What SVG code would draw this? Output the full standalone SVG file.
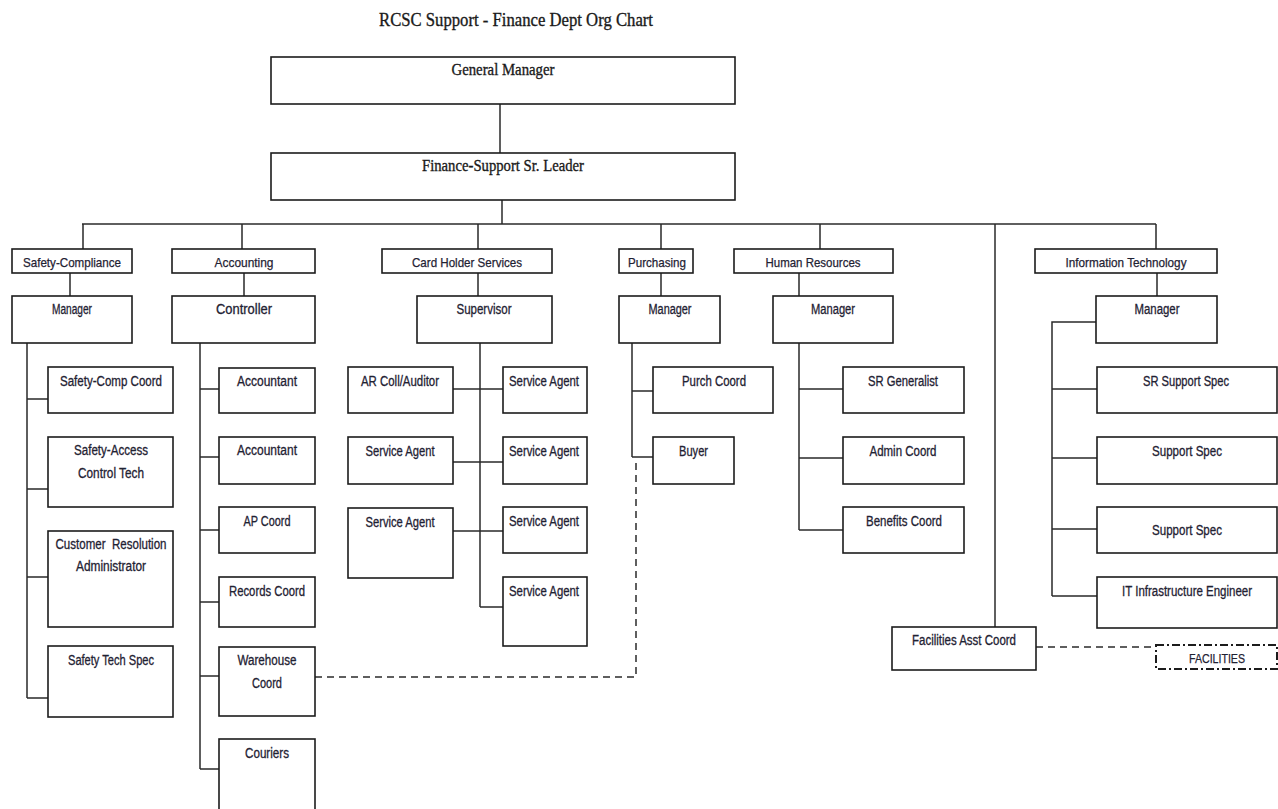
<svg xmlns="http://www.w3.org/2000/svg" width="1278" height="809" viewBox="0 0 1278 809">
  <style>
    .bx { fill: #ffffff; stroke: #1c1c1c; stroke-width: 1.6; }
    .ln { fill: none; stroke: #2a2a2a; stroke-width: 1.5; }
    .dash { fill: none; stroke: #2a2a2a; stroke-width: 1.5; stroke-dasharray: 7 5; }
    .dashdot { fill: #ffffff; stroke: #1c1c1c; stroke-width: 2; stroke-dasharray: 8 3 2 3; }
    .t { font-family: "Liberation Sans", Arial, sans-serif; font-size: 14px; fill: #1f2233; stroke: #1f2233; stroke-width: 0.3; text-anchor: middle; }
    .d { font-family: "Liberation Sans", Arial, sans-serif; font-size: 13px; fill: #1f2233; stroke: #1f2233; stroke-width: 0.25; text-anchor: middle; }
    .s { font-family: "Liberation Serif", "Times New Roman", serif; fill: #1a1a1a; stroke: #1a1a1a; stroke-width: 0.35; text-anchor: middle; }
  </style>
  <rect width="1278" height="809" fill="#ffffff"/>

  <text class="s" x="516" y="26" font-size="19" textLength="274" lengthAdjust="spacingAndGlyphs">RCSC Support - Finance Dept Org Chart</text>

  <!-- connectors -->
  <g id="connectors">
    <path class="ln" d="M500 104 V153"/>
    <path class="ln" d="M502 200 V224"/>
    <path class="ln" d="M82 224 H1156"/>
    <path class="ln" d="M83 224 V249 M242 224 V249 M478 224 V249 M661 224 V249 M820 224 V249 M1156 224 V249"/>
    <path class="ln" d="M995 224 V627"/>
    <path class="ln" d="M70 273 V296 M244 273 V296 M478 273 V296 M661 273 V296 M799 273 V296 M1157 273 V296"/>
    <!-- safety-compliance -->
    <path class="ln" d="M27 343 V698 M27 399 H48 M27 489 H48 M27 577 H48 M27 698 H48"/>
    <!-- accounting -->
    <path class="ln" d="M200 343 V769 M200 389 H219 M200 457 H219 M200 530 H219 M200 602 H219 M200 676 H219 M200 769 H219"/>
    <!-- card holder services -->
    <path class="ln" d="M480 343 V607 M453 389 H503 M453 462 H503 M453 531 H503 M480 607 H503"/>
    <!-- purchasing -->
    <path class="ln" d="M632 343 V457 M632 391 H653 M632 457 H653"/>
    <!-- human resources -->
    <path class="ln" d="M799 343 V530 M799 389 H843 M799 458 H843 M799 530 H843"/>
    <!-- information technology -->
    <path class="ln" d="M1096 322 H1052 V596 M1052 389 H1097 M1052 458 H1097 M1052 529 H1097 M1052 596 H1097"/>
    <!-- dotted-line reporting -->
    <path class="dash" d="M315 677 H636 V459"/>
    <path class="dash" d="M1036 647 H1156"/>
  </g>

  <g id="general-manager">
    <rect class="bx" x="271" y="57" width="464" height="47"/>
    <text class="s" x="503" y="75" font-size="17" textLength="103" lengthAdjust="spacingAndGlyphs">General Manager</text>
  </g>
  <g id="finance-leader">
    <rect class="bx" x="271" y="153" width="464" height="47"/>
    <text class="s" x="503" y="171" font-size="17" textLength="162" lengthAdjust="spacingAndGlyphs">Finance-Support Sr. Leader</text>
  </g>

  <!-- departments -->
  <g id="dept-safety">
    <rect class="bx" x="12" y="249" width="120" height="24"/>
    <text class="d" x="72" y="267" textLength="98" lengthAdjust="spacingAndGlyphs">Safety-Compliance</text>
  </g>
  <g id="dept-accounting">
    <rect class="bx" x="172" y="249" width="143" height="24"/>
    <text class="d" x="244" y="267" textLength="59" lengthAdjust="spacingAndGlyphs">Accounting</text>
  </g>
  <g id="dept-cardholder">
    <rect class="bx" x="382" y="249" width="170" height="24"/>
    <text class="d" x="467" y="267" textLength="110" lengthAdjust="spacingAndGlyphs">Card Holder Services</text>
  </g>
  <g id="dept-purchasing">
    <rect class="bx" x="619" y="249" width="74" height="24"/>
    <text class="d" x="657" y="267" textLength="58" lengthAdjust="spacingAndGlyphs">Purchasing</text>
  </g>
  <g id="dept-hr">
    <rect class="bx" x="734" y="249" width="159" height="24"/>
    <text class="d" x="813" y="267" textLength="95" lengthAdjust="spacingAndGlyphs">Human Resources</text>
  </g>
  <g id="dept-it">
    <rect class="bx" x="1035" y="249" width="182" height="24"/>
    <text class="d" x="1126" y="267" textLength="121" lengthAdjust="spacingAndGlyphs">Information Technology</text>
  </g>

  <!-- department heads -->
  <g id="safety-manager">
    <rect class="bx" x="12" y="296" width="120" height="47"/>
    <text class="t" x="72" y="314" textLength="40" lengthAdjust="spacingAndGlyphs">Manager</text>
  </g>
  <g id="controller">
    <rect class="bx" x="172" y="296" width="143" height="47"/>
    <text class="t" x="244" y="314" textLength="56" lengthAdjust="spacingAndGlyphs">Controller</text>
  </g>
  <g id="supervisor">
    <rect class="bx" x="417" y="296" width="135" height="47"/>
    <text class="t" x="484" y="314" textLength="55" lengthAdjust="spacingAndGlyphs">Supervisor</text>
  </g>
  <g id="purch-manager">
    <rect class="bx" x="619" y="296" width="101" height="47"/>
    <text class="t" x="670" y="314" textLength="43" lengthAdjust="spacingAndGlyphs">Manager</text>
  </g>
  <g id="hr-manager">
    <rect class="bx" x="773" y="296" width="120" height="47"/>
    <text class="t" x="833" y="314" textLength="44" lengthAdjust="spacingAndGlyphs">Manager</text>
  </g>
  <g id="it-manager">
    <rect class="bx" x="1096" y="296" width="121" height="47"/>
    <text class="t" x="1157" y="314" textLength="45" lengthAdjust="spacingAndGlyphs">Manager</text>
  </g>

  <!-- safety-compliance staff -->
  <g id="safety-comp-coord">
    <rect class="bx" x="48" y="367" width="125" height="46"/>
    <text class="t" x="111" y="385.5" textLength="102" lengthAdjust="spacingAndGlyphs">Safety-Comp Coord</text>
  </g>
  <g id="safety-access-tech">
    <rect class="bx" x="48" y="437" width="125" height="70"/>
    <text class="t" x="111" y="455" textLength="74" lengthAdjust="spacingAndGlyphs">Safety-Access</text>
    <text class="t" x="111" y="478" textLength="66" lengthAdjust="spacingAndGlyphs">Control Tech</text>
  </g>
  <g id="customer-resolution">
    <rect class="bx" x="48" y="531" width="125" height="96"/>
    <text class="t" x="111" y="549" textLength="111" lengthAdjust="spacingAndGlyphs" xml:space="preserve">Customer  Resolution</text>
    <text class="t" x="111" y="571" textLength="70" lengthAdjust="spacingAndGlyphs">Administrator</text>
  </g>
  <g id="safety-tech-spec">
    <rect class="bx" x="48" y="646" width="125" height="71"/>
    <text class="t" x="111" y="664.5" textLength="86" lengthAdjust="spacingAndGlyphs">Safety Tech Spec</text>
  </g>

  <!-- accounting staff -->
  <g id="accountant-1">
    <rect class="bx" x="219" y="368" width="96" height="45"/>
    <text class="t" x="267" y="386" textLength="60" lengthAdjust="spacingAndGlyphs">Accountant</text>
  </g>
  <g id="accountant-2">
    <rect class="bx" x="219" y="437" width="96" height="47"/>
    <text class="t" x="267" y="455" textLength="60" lengthAdjust="spacingAndGlyphs">Accountant</text>
  </g>
  <g id="ap-coord">
    <rect class="bx" x="219" y="507" width="96" height="46"/>
    <text class="t" x="267" y="525.5" textLength="47" lengthAdjust="spacingAndGlyphs">AP Coord</text>
  </g>
  <g id="records-coord">
    <rect class="bx" x="219" y="577" width="96" height="50"/>
    <text class="t" x="267" y="595.5" textLength="76" lengthAdjust="spacingAndGlyphs">Records Coord</text>
  </g>
  <g id="warehouse-coord">
    <rect class="bx" x="219" y="647" width="96" height="69"/>
    <text class="t" x="267" y="664.5" textLength="59" lengthAdjust="spacingAndGlyphs">Warehouse</text>
    <text class="t" x="267" y="688" textLength="30" lengthAdjust="spacingAndGlyphs">Coord</text>
  </g>
  <g id="couriers">
    <rect class="bx" x="219" y="739" width="96" height="80"/>
    <text class="t" x="267" y="757.5" textLength="44" lengthAdjust="spacingAndGlyphs">Couriers</text>
  </g>

  <!-- card holder services staff -->
  <g id="ar-coll-auditor">
    <rect class="bx" x="348" y="367" width="105" height="46"/>
    <text class="t" x="400" y="385.5" textLength="78" lengthAdjust="spacingAndGlyphs">AR Coll/Auditor</text>
  </g>
  <g id="service-agent-l2">
    <rect class="bx" x="348" y="437" width="105" height="47"/>
    <text class="t" x="400" y="455.5" textLength="69" lengthAdjust="spacingAndGlyphs">Service Agent</text>
  </g>
  <g id="service-agent-l3">
    <rect class="bx" x="348" y="508" width="105" height="70"/>
    <text class="t" x="400" y="526.5" textLength="69" lengthAdjust="spacingAndGlyphs">Service Agent</text>
  </g>
  <g id="service-agent-r1">
    <rect class="bx" x="503" y="367" width="84" height="46"/>
    <text class="t" x="544" y="385.5" textLength="70" lengthAdjust="spacingAndGlyphs">Service Agent</text>
  </g>
  <g id="service-agent-r2">
    <rect class="bx" x="503" y="437" width="84" height="47"/>
    <text class="t" x="544" y="455.5" textLength="70" lengthAdjust="spacingAndGlyphs">Service Agent</text>
  </g>
  <g id="service-agent-r3">
    <rect class="bx" x="503" y="507" width="84" height="46"/>
    <text class="t" x="544" y="525.5" textLength="70" lengthAdjust="spacingAndGlyphs">Service Agent</text>
  </g>
  <g id="service-agent-r4">
    <rect class="bx" x="503" y="577" width="84" height="69"/>
    <text class="t" x="544" y="595.5" textLength="70" lengthAdjust="spacingAndGlyphs">Service Agent</text>
  </g>

  <!-- purchasing staff -->
  <g id="purch-coord">
    <rect class="bx" x="653" y="367" width="120" height="46"/>
    <text class="t" x="714" y="385.5" textLength="64" lengthAdjust="spacingAndGlyphs">Purch Coord</text>
  </g>
  <g id="buyer">
    <rect class="bx" x="653" y="437" width="81" height="47"/>
    <text class="t" x="693.5" y="455.5" textLength="29" lengthAdjust="spacingAndGlyphs">Buyer</text>
  </g>

  <!-- human resources staff -->
  <g id="sr-generalist">
    <rect class="bx" x="843" y="367" width="121" height="46"/>
    <text class="t" x="903" y="385.5" textLength="70" lengthAdjust="spacingAndGlyphs">SR Generalist</text>
  </g>
  <g id="admin-coord">
    <rect class="bx" x="843" y="437" width="121" height="47"/>
    <text class="t" x="903" y="455.5" textLength="67" lengthAdjust="spacingAndGlyphs">Admin Coord</text>
  </g>
  <g id="benefits-coord">
    <rect class="bx" x="843" y="507" width="121" height="46"/>
    <text class="t" x="904" y="525.5" textLength="76" lengthAdjust="spacingAndGlyphs">Benefits Coord</text>
  </g>

  <!-- information technology staff -->
  <g id="sr-support-spec">
    <rect class="bx" x="1097" y="367" width="180" height="46"/>
    <text class="t" x="1186" y="385.5" textLength="86" lengthAdjust="spacingAndGlyphs">SR Support Spec</text>
  </g>
  <g id="support-spec-1">
    <rect class="bx" x="1097" y="437" width="180" height="47"/>
    <text class="t" x="1187" y="455.5" textLength="70" lengthAdjust="spacingAndGlyphs">Support Spec</text>
  </g>
  <g id="support-spec-2">
    <rect class="bx" x="1097" y="507" width="180" height="46"/>
    <text class="t" x="1187" y="535" textLength="70" lengthAdjust="spacingAndGlyphs">Support Spec</text>
  </g>
  <g id="it-infra-engineer">
    <rect class="bx" x="1097" y="577" width="180" height="51"/>
    <text class="t" x="1187" y="595.5" textLength="130" lengthAdjust="spacingAndGlyphs">IT Infrastructure Engineer</text>
  </g>

  <!-- facilities -->
  <g id="facilities-asst-coord">
    <rect class="bx" x="892" y="627" width="144" height="43"/>
    <text class="t" x="964" y="645" textLength="104" lengthAdjust="spacingAndGlyphs">Facilities Asst Coord</text>
  </g>
  <g id="facilities">
    <rect class="dashdot" x="1156" y="645" width="121" height="24"/>
    <text class="d" x="1217" y="663" textLength="56" lengthAdjust="spacingAndGlyphs">FACILITIES</text>
  </g>
</svg>
